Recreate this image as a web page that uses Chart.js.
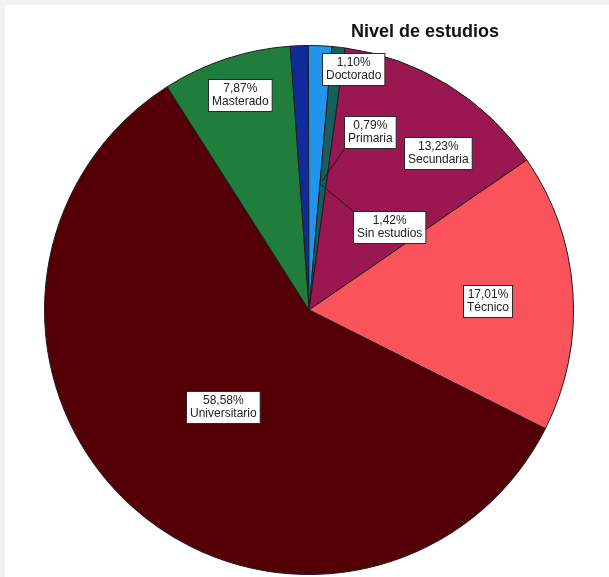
<!DOCTYPE html>
<html>
<head>
<meta charset="utf-8">
<script src="https://cdn.jsdelivr.net/npm/chart.js@4/dist/chart.umd.min.js"></script>
<style>
  html, body { margin: 0; padding: 0; background: #f1f1f1; }
  #wrap { position: absolute; left: 5px; top: 5px; width: 604px; height: 572px; background: #ffffff; }
  canvas { display: block; }
</style>
</head>
<body>
<div id="wrap"><canvas id="pie" width="604" height="572"></canvas></div>
<script>
// Nivel de estudios: share of respondents per education level (%)
const categories = ['Doctorado', 'Sin estudios', 'Primaria', 'Secundaria', 'Técnico', 'Universitario', 'Masterado'];
const percentages = [1.10, 1.42, 0.79, 13.23, 17.01, 58.58, 7.87];
const sliceColors = ['#102c9c', '#2194ee', '#15605e', '#9a1752', '#fa535b', '#540006', '#1f7e3c'];

// Label placement per slice: [angle offset from slice middle (deg), distance as fraction of radius,
// leader line: null or [angle offset of its slice end (deg), fraction of radius]]
const labelPlacement = [
  [12.6, 0.925, null],
  [41.6, 0.435, [2.5, 0.48]],
  [12.4, 0.71, [-0.6, 0.49]],
  [7.7, 0.766, null],
  [1.0, 0.674, null],
  [-0.5, 0.493, null],
  [0.5, 0.852, null]
];

const formatPct = v => v.toFixed(2).replace('.', ',') + '%';

const titlePlugin = {
  id: 'plotTitle',
  afterDraw(chart) {
    const ctx = chart.ctx;
    ctx.save();
    ctx.font = 'bold 18px "Liberation Sans", Arial, sans-serif';
    ctx.fillStyle = '#111111';
    ctx.textAlign = 'center';
    ctx.textBaseline = 'middle';
    ctx.fillText('Nivel de estudios', 420, 27);
    ctx.restore();
  }
};

const sliceLabels = {
  id: 'sliceLabels',
  afterDatasetsDraw(chart) {
    const ctx = chart.ctx;
    const meta = chart.getDatasetMeta(0);
    const values = chart.data.datasets[0].data;
    const rad = Math.PI / 180;
    ctx.save();
    ctx.font = '12px "Liberation Sans", Arial, sans-serif';
    meta.data.forEach((arc, i) => {
      const p = arc.getProps(['x', 'y', 'startAngle', 'endAngle', 'outerRadius'], true);
      const mid = (p.startAngle + p.endAngle) / 2;
      const [dA, frac, leader] = labelPlacement[i];
      const a = mid + dA * rad;
      const cx = p.x + Math.cos(a) * p.outerRadius * frac;
      const cy = p.y + Math.sin(a) * p.outerRadius * frac;
      const l1 = formatPct(values[i]);
      const l2 = chart.data.labels[i];
      const w = Math.max(ctx.measureText(l1).width, ctx.measureText(l2).width) + 7;
      const h = 32;
      const bx = Math.round(cx - w / 2) + 0.5;
      const by = Math.round(cy - h / 2) + 0.5;
      if (leader) {
        // leader from inside the slice to the nearest box corner
        const la = mid + leader[0] * rad;
        const sx = p.x + Math.cos(la) * p.outerRadius * leader[1];
        const sy = p.y + Math.sin(la) * p.outerRadius * leader[1];
        const corners = [[bx, by], [bx + w, by], [bx, by + h], [bx + w, by + h]];
        let best = corners[0], bd = Infinity;
        corners.forEach(c => {
          const d = Math.hypot(c[0] - sx, c[1] - sy);
          if (d < bd) { bd = d; best = c; }
        });
        ctx.strokeStyle = '#1a1a1a';
        ctx.lineWidth = 1;
        ctx.beginPath();
        ctx.moveTo(sx, sy);
        ctx.lineTo(best[0], best[1]);
        ctx.stroke();
      }
      ctx.fillStyle = '#ffffff';
      ctx.fillRect(bx, by, w, h);
      ctx.strokeStyle = '#2a2a2a';
      ctx.lineWidth = 1;
      ctx.strokeRect(bx, by, w, h);
      ctx.fillStyle = '#222222';
      ctx.textAlign = 'center';
      ctx.textBaseline = 'middle';
      ctx.fillText(l1, bx + w / 2, by + h / 2 - 6.5);
      ctx.fillText(l2, bx + w / 2, by + h / 2 + 6.5);
    });
    ctx.restore();
  }
};

new Chart(document.getElementById('pie'), {
  type: 'pie',
  data: {
    labels: categories,
    datasets: [{
      data: percentages,
      backgroundColor: sliceColors,
      borderColor: '#1c1c1c',
      borderWidth: 1
    }]
  },
  options: {
    responsive: false,
    devicePixelRatio: 1,
    animation: false,
    rotation: -4.1,
    layout: { padding: { left: 39, right: 35, top: 40, bottom: 2 } },
    plugins: {
      legend: { display: false },
      tooltip: { enabled: false },
      title: { display: false }
    }
  },
  plugins: [sliceLabels, titlePlugin]
});
</script>
</body>
</html>
